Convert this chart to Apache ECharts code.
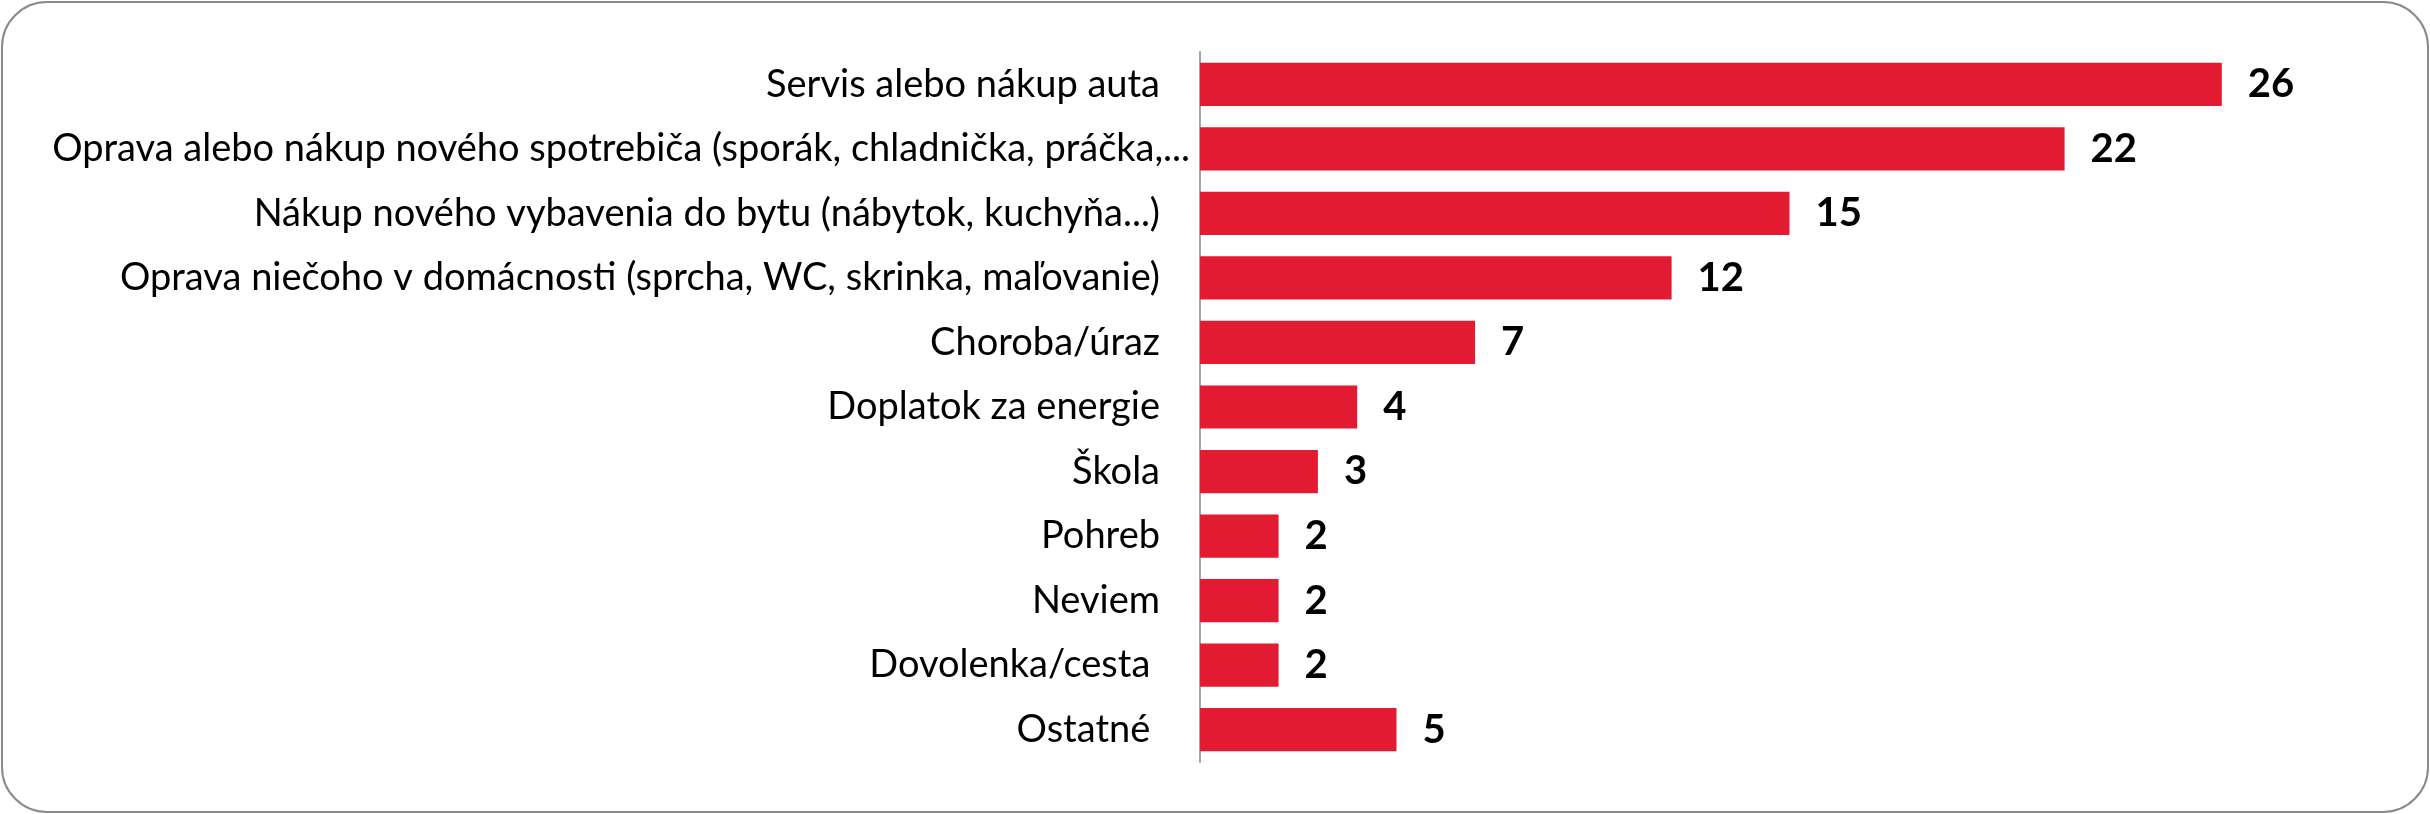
<!DOCTYPE html>
<html>
<head>
<meta charset="utf-8">
<script src="https://cdn.jsdelivr.net/npm/echarts@6/dist/echarts.min.js"></script>
<style>
    html, body { margin: 0; padding: 0; background: #fff; }
    #frame {
        position: absolute; left: 1px; top: 1px; width: 2424px; height: 808px;
        border: 2px solid #8a8a8a; border-radius: 46px; box-sizing: content-box;
    }
    #chart { position: absolute; left: 0; top: 0; width: 2430px; height: 814px; }
</style>
</head>
<body>
<div id="frame"></div>
<div id="chart"></div>
<script>
    // Categories, top to bottom
    const categories = [
        'Servis alebo nákup auta',
        'Oprava alebo nákup nového spotrebiča (sporák, chladnička, práčka,...',
        'Nákup nového vybavenia do bytu (nábytok, kuchyňa...)',
        'Oprava niečoho v domácnosti (sprcha, WC, skrinka, maľovanie)',
        'Choroba/úraz',
        'Doplatok za energie',
        'Škola',
        'Pohreb',
        'Neviem',
        'Dovolenka/cesta ',
        'Ostatné '
    ];
    // Values in the same order
    const values = [26, 22, 15, 12, 7, 4, 3, 2, 2, 2, 5];

    const chart = echarts.init(document.getElementById('chart'));

    // Long labels sit closer to the axis in the original
    const labelFormatter = (name) => {
        return name.length > 60 ? `{wide|${name}}` : `{std|${name}}`;
    };

    chart.setOption({
        animation: false,
        grid: {
            left: 1200,
            right: 51,
            top: 52,
            bottom: 52,
            containLabel: false
        },
        xAxis: {
            type: 'value',
            min: 0,
            max: 30,
            show: false
        },
        yAxis: {
            type: 'category',
            data: categories,
            inverse: true,
            axisLine: { show: true, lineStyle: { color: '#a6a6a6', width: 2 } },
            axisTick: { show: false },
            axisLabel: {
                interval: 0,
                margin: 10,
                color: '#000',
                fontFamily: 'Lato',
                fontSize: 38,
                formatter: labelFormatter,
                rich: {
                    std: { fontFamily: 'Lato', fontSize: 38, color: '#000', padding: [0, 30, 0, 0] },
                    wide: { fontFamily: 'Lato', fontSize: 38, color: '#000', padding: [0, 0, 0, 0] }
                }
            }
        },
        series: [
            {
                type: 'bar',
                data: values,
                barCategoryGap: '33%',
                itemStyle: { color: '#E21B33' },
                label: {
                    show: true,
                    position: 'right',
                    distance: 26,
                    color: '#000',
                    fontFamily: 'Lato',
                    fontWeight: 'bold',
                    fontSize: 40
                }
            }
        ]
    });
</script>
</body>
</html>
